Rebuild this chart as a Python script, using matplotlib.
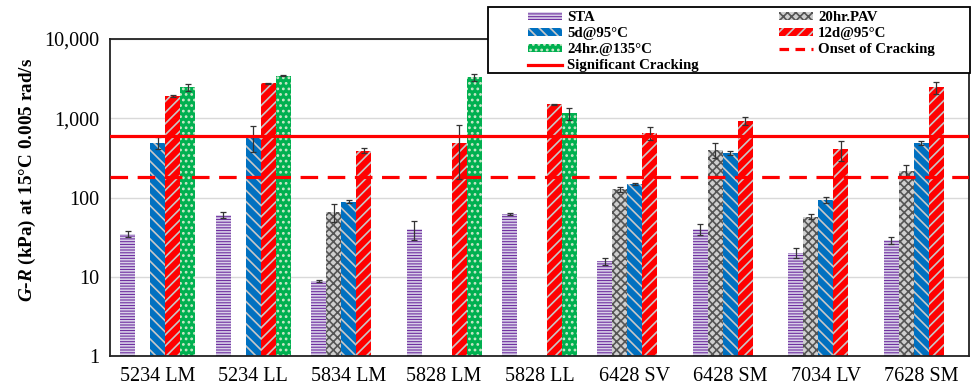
import numpy as np
import matplotlib
matplotlib.use('Agg')
import matplotlib.pyplot as plt
from matplotlib.patches import Patch, Rectangle
from matplotlib.lines import Line2D
from matplotlib.ticker import FixedLocator, FuncFormatter, NullLocator

nan = np.nan

categories = ['5234 LM', '5234 LL', '5834 LM', '5828 LM', '5828 LL',
              '6428 SV', '6428 SM', '7034 LV', '7628 SM']

sta = [35, 60, 8.9, 40, 62, 15.6, 40, 20.2, 29.2]
sta_err = [3, 5, 0.3, 11, 2, 1.5, 6, 3, 3]
pav = [nan, nan, 66, nan, nan, 127, 398, 57.5, 216]
pav_err = [nan, nan, 17, nan, nan, 8, 86, 4, 40]
d5 = [493, 590, 89, nan, nan, 148, 368, 93, 484]
d5_err = [80, 220, 4, nan, nan, 3, 20, 8, 25]
d12 = [1910, 2760, 391, 493, 1500, 659, 925, 406, 2450]
d12_err = [40, 30, 25, 320, 20, 125, 100, 116, 430]
h24 = [2460, 3440, nan, 3290, 1156, nan, nan, nan, nan]
h24_err = [250, 60, nan, 330, 200, nan, nan, nan, nan]

onset = 180
significant = 600

series = [
    ('STA', sta, sta_err, '#7030A0', '#d8d0e8', '------'),
    ('20hr.PAV', pav, pav_err, '#cfcfcf', '#555555', 'xxxx'),
    ('5d@95°C', d5, d5_err, '#0070C0', '#c8c8c8', '\\\\\\'),
    ('12d@95°C', d12, d12_err, '#FF0000', '#c8c8c8', '///'),
    ('24hr.@135°C', h24, h24_err, '#00B050', '#c8e8c8', '...'),
]

plt.rcParams['font.family'] = ['Liberation Serif', 'DejaVu Serif']
plt.rcParams['mathtext.fontset'] = 'custom'
plt.rcParams['mathtext.it'] = 'Liberation Serif:italic:bold'
plt.rcParams['mathtext.rm'] = 'Liberation Serif:bold'
plt.rcParams['hatch.linewidth'] = 1.2

fig = plt.figure(figsize=(9.8, 3.89), dpi=100)
ax = fig.add_axes([110/980, 1-356/389, 859/980, 317/389])

x = np.arange(len(categories))
w = 0.157
handles = {}
for j, (name, vals, errs, face, hcol, hatch) in enumerate(series):
    pos = x + (j - 2) * w
    ax.bar(pos, vals, width=w, color=face, edgecolor=hcol, linewidth=0,
           hatch=hatch, zorder=2)
    ax.errorbar(pos, vals, yerr=errs, fmt='none', ecolor='#333333',
                elinewidth=0.9, capsize=2.5, capthick=0.9, zorder=3)
    handles[name] = Patch(facecolor=face, edgecolor=hcol, linewidth=0, hatch=hatch)

ax.axhline(significant, color='#FF0000', lw=2.3, zorder=4)
ax.axhline(onset, color='#FF0000', lw=2.3, dashes=(5.5, 3), zorder=4)

ax.set_yscale('log')
ax.set_ylim(1, 10000)
ax.set_xlim(-0.5, len(categories) - 0.5)
ax.yaxis.set_major_locator(FixedLocator([1, 10, 100, 1000, 10000]))
ax.yaxis.set_minor_locator(NullLocator())
ax.yaxis.set_major_formatter(FuncFormatter(lambda v, p: f'{v:,.0f}'))
ax.set_xticks(x)
ax.set_xticklabels(categories)
ax.tick_params(axis='both', length=0, labelsize=14.5, colors='black')
ax.tick_params(axis='y', pad=8)
ax.tick_params(axis='x', pad=8)
ax.grid(axis='y', color='#d9d9d9', lw=1, zorder=0)
ax.set_axisbelow(True)
for s in ax.spines.values():
    s.set_color('#222222')
    s.set_linewidth(1.3)

fig.text(27/980, 1-180/389, '$G$-$R$ (kPa) at 15°C 0.005 rad/s', rotation=90,
         ha='center', va='center', fontsize=13.8, fontweight='bold')

# legend box sits over the top spine
box = Rectangle((488/980, 1-73/389), (970-488)/980, 66/389, transform=fig.transFigure,
                facecolor='white', edgecolor='black', lw=1.3, zorder=10)
fig.patches.append(box)

sig_h = Line2D([], [], color='#FF0000', lw=2.3)
onset_h = Line2D([], [], color='#FF0000', lw=2.3, dashes=(3, 2))
order = [handles['STA'], handles['5d@95°C'], handles['24hr.@135°C'], sig_h,
         handles['20hr.PAV'], handles['12d@95°C'], onset_h]
labels = ['STA', '5d@95°C', '24hr.@135°C', 'Significant Cracking',
          '20hr.PAV', '12d@95°C', 'Onset of Cracking']
fs = 10.7
px = fs * 100 / 72
leg = fig.legend(order, labels, ncol=2, loc='upper left',
                 bbox_to_anchor=(521/980, 1-4/389), frameon=False, borderpad=0,
                 handlelength=34/px, handleheight=0.4, handletextpad=5/px,
                 columnspacing=80/px, labelspacing=0.2,
                 prop={'size': fs, 'weight': 'bold'})
leg.set_zorder(11)

fig.savefig('out.png', dpi=100)
